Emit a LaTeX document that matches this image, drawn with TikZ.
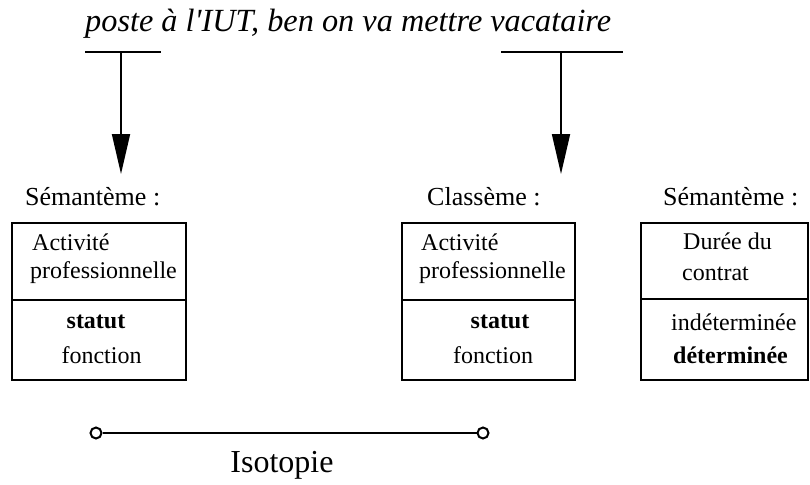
\documentclass[tikz,border=0pt]{standalone}
\usepackage{fontspec}
\setmainfont{Liberation Serif}
\usetikzlibrary{arrows.meta}
\begin{document}
\begin{tikzpicture}[x=1pt,y=-1pt,
  lbl/.style={anchor=base west,inner sep=0pt,font=\fontsize{26}{30}\selectfont},
  txt/.style={anchor=base west,inner sep=0pt,font=\fontsize{24}{28}\selectfont},
  ctxt/.style={anchor=base,inner sep=0pt,font=\fontsize{24}{28}\selectfont},
  boxframe/.style={draw,line width=1.6pt,inner sep=0pt},
  tbar/.style={line width=2pt},
  arr/.style={line width=1.8pt,-{Triangle[length=40pt,width=18pt]}},
  endcirc/.style={circle,draw,fill=white,line width=2pt,minimum size=11pt,inner sep=0pt}
]
\useasboundingbox (0,0) rectangle (810,484);

% top sentence
\node[anchor=base west,inner sep=0pt,font=\fontsize{32.3}{36}\selectfont\itshape] (phrase) at (85,32) {poste à l\textquotesingle IUT, ben on va mettre vacataire};

% T bars and arrows
\coordinate (tl1) at (85,52); \coordinate (tl2) at (161,52); \coordinate (tlm) at (121,52);
\coordinate (tr1) at (501,52); \coordinate (tr2) at (623,52); \coordinate (trm) at (561,52);
\coordinate (al) at (121,174); \coordinate (ar) at (561,174);
\draw[tbar] (tl1) -- (tl2);
\draw[tbar] (tr1) -- (tr2);
\draw[arr] (tlm) -- (al);
\draw[arr] (trm) -- (ar);

% labels
\node[lbl] (l1) at (25,205) {Sémantème :};
\node[lbl] (l2) at (427,205) {Classème :};
\node[lbl] (l3) at (663,205) {Sémantème :};

% boxes
\node[boxframe,minimum width=174pt,minimum height=157pt] (b1) at (99,301.5) {};
\node[boxframe,minimum width=173pt,minimum height=157pt] (b2) at (488.5,301.5) {};
\node[boxframe,minimum width=167pt,minimum height=157pt] (b3) at (724.5,301.5) {};
\draw[line width=1.6pt] (12,300) -- (186,300);
\draw[line width=1.6pt] (402,300) -- (575,300);
\draw[line width=1.6pt] (641,299) -- (808,299);

% box 1 text
\node[txt] (b1a) at (32,250) {Activité};
\node[txt] (b1b) at (30,278) {professionnelle};
\node[ctxt,font=\fontsize{24}{28}\selectfont\bfseries] (b1c) at (96,328) {statut};
\node[ctxt] (b1d) at (101.5,363) {fonction};

% box 2 text
\node[txt] (b2a) at (421,250) {Activité};
\node[txt] (b2b) at (419,278) {professionnelle};
\node[ctxt,font=\fontsize{24}{28}\selectfont\bfseries] (b2c) at (500,328) {statut};
\node[ctxt] (b2d) at (493,363) {fonction};

% box 3 text
\node[txt] (b3a) at (683,249) {Durée du};
\node[txt] (b3b) at (682,280) {contrat};
\node[txt] (b3c) at (671,330) {indéterminée};
\node[txt,font=\fontsize{24}{28}\selectfont\bfseries] (b3d) at (673,363) {déterminée};

% isotopie
\node[endcirc] (i1) at (96,433) {};
\node[endcirc] (i2) at (483,433) {};
\draw[line width=2pt] (i1) -- (i2);
\node[anchor=base,inner sep=0pt,font=\fontsize{32}{36}\selectfont] (iso) at (282,472) {Isotopie};
\end{tikzpicture}
\end{document}
